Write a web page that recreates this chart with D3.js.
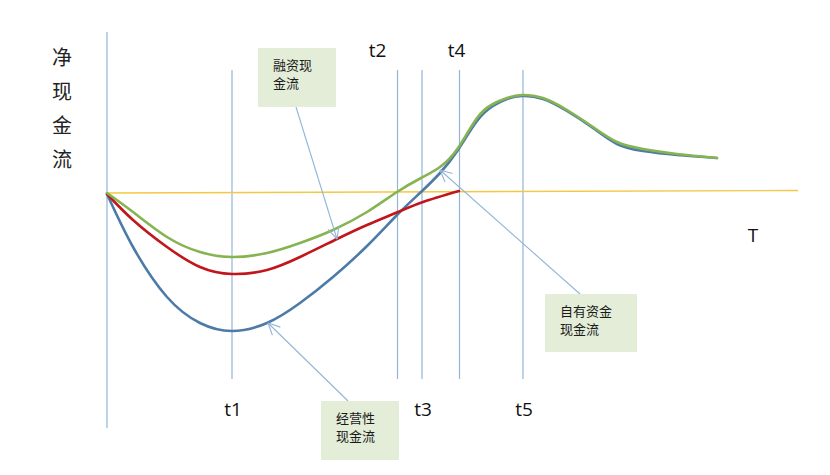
<!DOCTYPE html>
<html>
<head>
<meta charset="utf-8">
<script src="https://cdn.jsdelivr.net/npm/d3@7"></script>
<style>
  body { margin: 0; background: #fff; }
  svg { display: block; }
</style>
</head>
<body>
<svg id="chart" width="830" height="475"></svg>
<script>
// time markers on the T axis
const markerNames = ["t1", "t2", "t3", "t4", "t5"];
const markerTimes = [12.5, 29.05, 31.5, 35.25, 41.6];
const markerSide = ["below", "above", "below", "above", "below"];

// cash flow curves, [time, value]
const operatingFlow = [
  [0, -2], [2.6, -55], [6, -105], [9.3, -131], [12.5, -139], [16, -131],
  [19.3, -111], [22.6, -85], [26, -54], [29.1, -22], [31.4, 0], [33.3, 19],
  [35.1, 42], [37, 71], [38.6, 86], [40, 93], [41.5, 96], [43.6, 93],
  [46, 81], [48.6, 64], [51, 48], [53.6, 41], [57, 37], [61, 34]
];
const financingFlow = [
  [0, -2], [2.6, -28], [6, -55], [9.3, -75], [12.5, -82], [16, -78],
  [19.3, -65], [23, -47], [26, -33], [29.1, -20], [31.6, -10], [35.2, 1]
];
const equityFlow = [
  [0, -1], [2.6, -20], [6, -45], [9.3, -60], [12.5, -65], [16, -61],
  [19.3, -51], [22.6, -38], [26, -20], [29, 0], [31.4, 14], [33.3, 25],
  [35.1, 44], [37, 74], [38.6, 88], [40, 94], [41.5, 97], [43.6, 94],
  [46, 82], [48.6, 65], [51, 50], [53.6, 43], [57, 38], [61, 34]
];

// zero line (slightly tilted as drawn) and the vertical axis
const zeroLine = [[0, -1], [69.1, 1.5]];
const axisRange = [160, -236];
const markerRange = [122, -187];

// callout labels and where their arrows point
const calloutLines = [["融资现", "金流"], ["经营性", "现金流"], ["自有资金", "现金流"]];
const calloutTargets = [[23, -47], [16.1, -131], [33.3, 22]];

const yTitle = "净现金流";
const xTitle = "T";

// layout
const svg = d3.select("#chart");
const x = d3.scaleLinear().domain([0, 70]).range([107, 807]);
const y = d3.scaleLinear().domain([-240, 160]).range([432, 32]);

const guideColor = "#93b5d8";
const boxes = [
  { x: 258, y: 48, w: 78, h: 59, ax: 38, ay: 59 },
  { x: 321, y: 401, w: 78, h: 59, ax: 27, ay: 0 },
  { x: 545, y: 294, w: 92, h: 58, ax: 35, ay: 0 }
];

// vertical axis
svg.append("line")
  .attr("x1", x(0)).attr("x2", x(0))
  .attr("y1", y(axisRange[0])).attr("y2", y(axisRange[1]))
  .attr("stroke", guideColor).attr("stroke-width", 1.2);

// marker lines
svg.append("g")
  .selectAll("line")
  .data(markerTimes)
  .join("line")
  .attr("x1", (d) => x(d)).attr("x2", (d) => x(d))
  .attr("y1", y(markerRange[0])).attr("y2", y(markerRange[1]))
  .attr("stroke", guideColor).attr("stroke-width", 1.2);

// zero line
svg.append("path")
  .datum(zeroLine)
  .attr("d", d3.line().x((d) => x(d[0])).y((d) => y(d[1])))
  .attr("fill", "none")
  .attr("stroke", "#f4c842")
  .attr("stroke-width", 1.4);

// curves
const curve = d3.line()
  .x((d) => x(d[0]))
  .y((d) => y(d[1]))
  .curve(d3.curveNatural);

[
  [operatingFlow, "#4c7ba8"],
  [financingFlow, "#c0161c"],
  [equityFlow, "#86b451"]
].forEach(([data, color]) => {
  svg.append("path")
    .datum(data)
    .attr("d", curve)
    .attr("fill", "none")
    .attr("stroke", color)
    .attr("stroke-width", 2.6)
    .attr("stroke-linecap", "round");
});

// callout arrows
const arrows = svg.append("g")
  .attr("stroke", guideColor)
  .attr("stroke-width", 1.1)
  .attr("fill", "none");

calloutTargets.forEach((tip, i) => {
  const b = boxes[i];
  const sx = b.x + b.ax, sy = b.y + b.ay;
  const tx = x(tip[0]), ty = y(tip[1]);
  arrows.append("line")
    .attr("x1", sx).attr("y1", sy)
    .attr("x2", tx).attr("y2", ty);
  const ang = Math.atan2(sy - ty, sx - tx);
  [-0.45, 0.45].forEach((da) => {
    arrows.append("line")
      .attr("x1", tx).attr("y1", ty)
      .attr("x2", tx + 13 * Math.cos(ang + da))
      .attr("y2", ty + 13 * Math.sin(ang + da));
  });
});

// callout boxes
const callouts = svg.append("g")
  .selectAll("g")
  .data(calloutLines)
  .join("g")
  .attr("transform", (d, i) => `translate(${boxes[i].x},${boxes[i].y})`);

callouts.append("rect")
  .attr("width", (d, i) => boxes[i].w)
  .attr("height", (d, i) => boxes[i].h)
  .attr("fill", "#e3edd8");

callouts.selectAll("text")
  .data((d) => d)
  .join("text")
  .attr("x", 15)
  .attr("y", (d, j) => 22 + j * 18)
  .attr("font-family", "'Noto Sans CJK SC', sans-serif")
  .attr("font-size", 13)
  .attr("fill", "#1a1a1a")
  .text((d) => d);

// marker labels
svg.append("g")
  .selectAll("text")
  .data(markerNames)
  .join("text")
  .attr("x", (d, i) => x(markerTimes[i]) + (i === 1 ? -20 : i === 3 ? -3 : 1))
  .attr("y", (d, i) => (markerSide[i] === "above" ? 57 : 416))
  .attr("text-anchor", "middle")
  .attr("font-family", "'Open Sans', sans-serif")
  .attr("font-size", 19)
  .attr("fill", "#111")
  .text((d) => d);

// axis titles
svg.append("text")
  .attr("x", 753).attr("y", 242)
  .attr("text-anchor", "middle")
  .attr("font-family", "'Open Sans', sans-serif")
  .attr("font-size", 19)
  .attr("fill", "#111")
  .text(xTitle);

svg.append("g")
  .selectAll("text")
  .data(yTitle.split(""))
  .join("text")
  .attr("x", 62)
  .attr("y", (d, i) => 65 + i * 34)
  .attr("text-anchor", "middle")
  .attr("font-family", "'Noto Sans CJK SC', sans-serif")
  .attr("font-size", 20)
  .attr("fill", "#222")
  .text((d) => d);
</script>
</body>
</html>
